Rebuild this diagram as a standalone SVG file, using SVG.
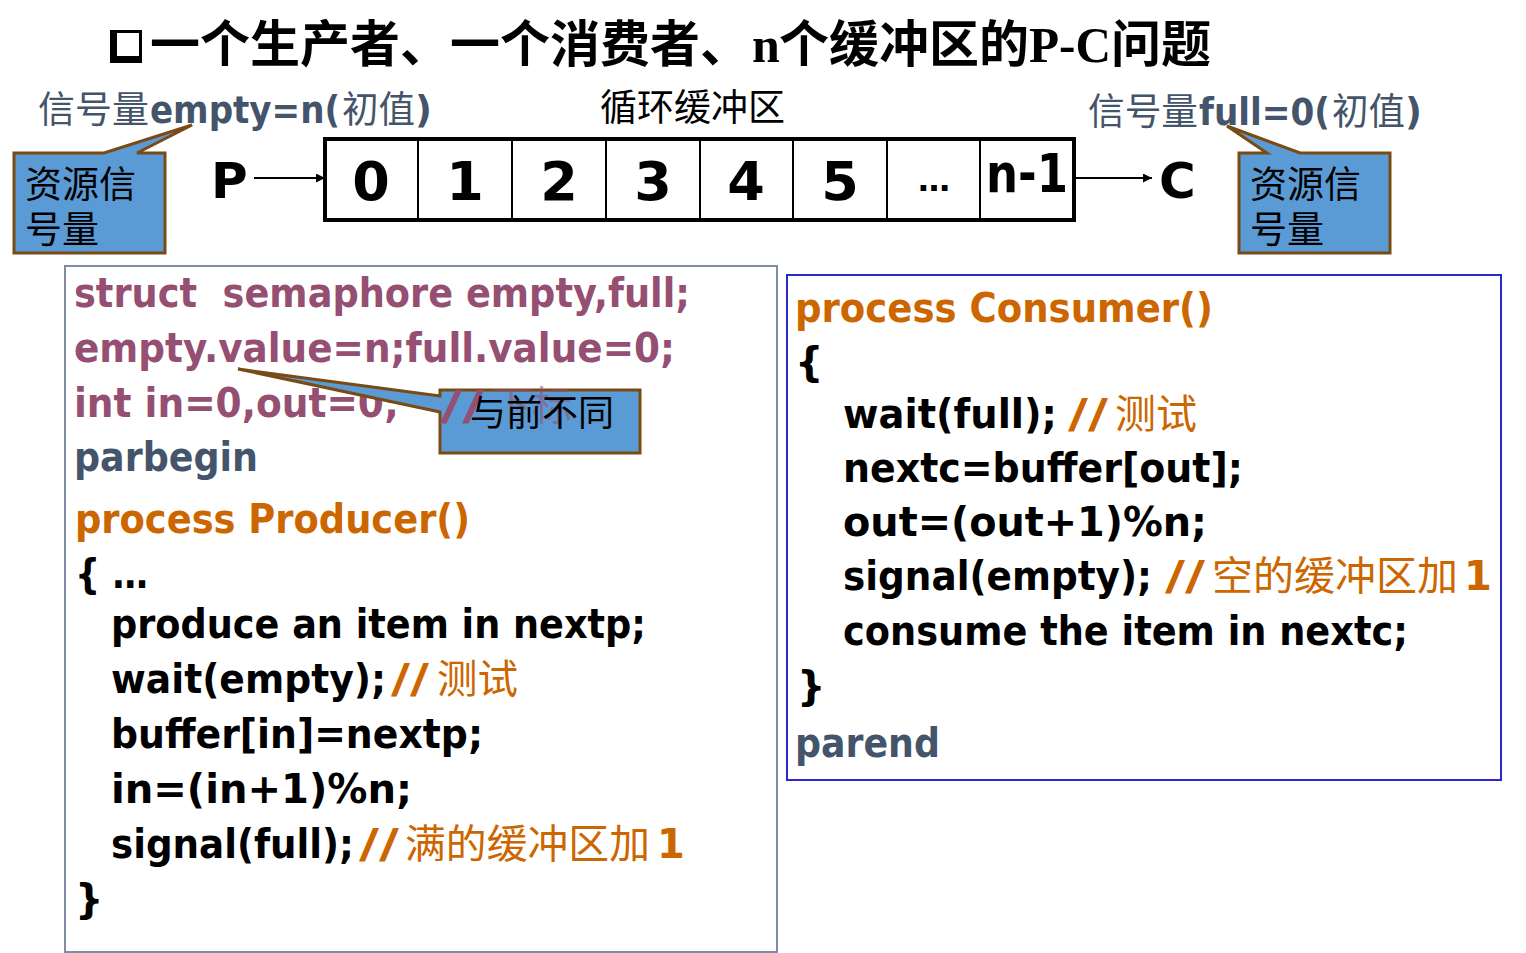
<svg xmlns="http://www.w3.org/2000/svg" width="1526" height="953" viewBox="0 0 1526 953">
  <defs>
    <marker id="arrow" viewBox="0 0 10 10" refX="10" refY="5" markerWidth="9" markerHeight="9" markerUnits="userSpaceOnUse" orient="auto">
      <path d="M0,0 L10,5 L0,10 Z" fill="#000"/>
    </marker>
    <style>
      .title { font-family: "Noto Sans CJK SC", sans-serif; font-weight: 700; font-size: 50px; fill: #000; }
      .titleLatin { font-family: "Liberation Serif", serif; font-weight: 700; font-size: 50px; fill: #000; }
      .code { font-family: "DejaVu Sans", sans-serif; font-weight: 700; }
      .thin { font-family: "Noto Sans CJK SC", sans-serif; font-weight: 400; }
      .maroon { fill: #954F72; }
      .slate { fill: #44546A; }
      .orange { fill: #CC6600; }
      .black { fill: #000; }
      .callout { fill: #5B9BD5; stroke: #7A4A14; stroke-width: 3; }
      .cell { fill: none; stroke: #000; stroke-width: 2; }
      .digit { font-family: "DejaVu Sans", sans-serif; font-weight: 700; text-anchor: middle; fill: #000; }
    </style>
  </defs>

  <!-- heading -->
  <g id="title">
    <rect x="110" y="30" width="32" height="33" fill="#000"/>
    <rect x="117" y="33" width="22" height="23" fill="#fff"/>
    <text class="title" x="150" y="62" textLength="600" lengthAdjust="spacingAndGlyphs">一个生产者、一个消费者、</text>
    <text class="titleLatin" x="752" y="62">n</text>
    <text class="title" x="779" y="62" textLength="250" lengthAdjust="spacingAndGlyphs">个缓冲区的</text>
    <text class="titleLatin" x="1029" y="62" textLength="82" lengthAdjust="spacingAndGlyphs">P-C</text>
    <text class="title" x="1111" y="62" textLength="100" lengthAdjust="spacingAndGlyphs">问题</text>
  </g>

  <!-- semaphore labels -->
  <g id="label-empty" font-size="37">
    <text class="thin slate" x="38" y="123" textLength="111" lengthAdjust="spacingAndGlyphs">信号量</text>
    <text class="code slate" x="150" y="123" textLength="190" lengthAdjust="spacingAndGlyphs">empty=n(</text>
    <text class="thin slate" x="342" y="123" textLength="73" lengthAdjust="spacingAndGlyphs">初值</text>
    <text class="code slate" x="415" y="123">)</text>
  </g>
  <g id="label-buffer" font-size="37">
    <text class="thin black" x="600" y="121" textLength="185" lengthAdjust="spacingAndGlyphs">循环缓冲区</text>
  </g>
  <g id="label-full" font-size="37">
    <text class="thin slate" x="1088" y="125" textLength="110" lengthAdjust="spacingAndGlyphs">信号量</text>
    <text class="code slate" x="1199" y="125" textLength="131" lengthAdjust="spacingAndGlyphs">full=0(</text>
    <text class="thin slate" x="1332" y="125" textLength="73" lengthAdjust="spacingAndGlyphs">初值</text>
    <text class="code slate" x="1405" y="125">)</text>
  </g>

  <!-- callouts: resource semaphore -->
  <g id="callout-empty" font-size="37">
    <path class="callout" d="M14,153 H104 L192,125 L137,153 H165 V253 H14 Z"/>
    <text class="thin black" x="25" y="198">资源信</text>
    <text class="thin black" x="25" y="243">号量</text>
  </g>
  <g id="callout-full" font-size="37">
    <path class="callout" d="M1239,153 H1267 L1227,126 L1300,153 H1390 V253 H1239 Z"/>
    <text class="thin black" x="1250" y="198">资源信</text>
    <text class="thin black" x="1250" y="243">号量</text>
  </g>

  <!-- producer / consumer -->
  <g id="node-P">
    <text class="code black" x="211" y="198" font-size="50">P</text>
  </g>
  <g id="node-C">
    <text class="code black" x="1159" y="198" font-size="50">C</text>
  </g>

  <!-- ring buffer -->
  <g id="buffer" font-size="54">
    <rect x="325" y="139" width="749" height="81" fill="#fff" stroke="#000" stroke-width="4"/>
    <line class="cell" x1="418" y1="139" x2="418" y2="220"/>
    <line class="cell" x1="512" y1="139" x2="512" y2="220"/>
    <line class="cell" x1="606" y1="139" x2="606" y2="220"/>
    <line class="cell" x1="700" y1="139" x2="700" y2="220"/>
    <line class="cell" x1="793" y1="139" x2="793" y2="220"/>
    <line class="cell" x1="887" y1="139" x2="887" y2="220"/>
    <line class="cell" x1="980" y1="139" x2="980" y2="220"/>
    <text class="digit" x="371" y="200">0</text>
    <text class="digit" x="465" y="200">1</text>
    <text class="digit" x="559" y="200">2</text>
    <text class="digit" x="653" y="200">3</text>
    <text class="digit" x="746" y="200">4</text>
    <text class="digit" x="840" y="200">5</text>
    <text class="digit" x="934" y="191" font-size="32">…</text>
    <text class="digit" x="1027" y="192" textLength="82" lengthAdjust="spacingAndGlyphs">n-1</text>
  </g>

  <!-- connectors -->
  <g id="connectors" stroke="#000" stroke-width="2" fill="none">
    <line x1="254" y1="178" x2="325" y2="178" marker-end="url(#arrow)"/>
    <line x1="1076" y1="178" x2="1152" y2="178" marker-end="url(#arrow)"/>
  </g>

  <!-- producer code panel -->
  <g id="producer-code" font-size="40">
    <rect x="65" y="266" width="712" height="686" fill="none" stroke="#7F8CA3" stroke-width="2"/>
    <text class="code maroon" x="74" y="307" xml:space="preserve" textLength="616" lengthAdjust="spacingAndGlyphs">struct  semaphore empty,full;</text>
    <text class="code maroon" x="74" y="362" textLength="601" lengthAdjust="spacingAndGlyphs">empty.value=n;full.value=0;</text>
    <text class="code maroon" x="74" y="417" textLength="325" lengthAdjust="spacingAndGlyphs">int in=0,out=0;</text>
    <text class="code slate" x="74" y="471" textLength="184" lengthAdjust="spacingAndGlyphs">parbegin</text>
    <text class="code orange" x="75" y="533" textLength="395" lengthAdjust="spacingAndGlyphs">process Producer()</text>
    <text class="code black" x="75" y="588" textLength="73" lengthAdjust="spacingAndGlyphs">{ …</text>
    <text class="code black" x="111" y="638" textLength="535" lengthAdjust="spacingAndGlyphs">produce an item in nextp;</text>
    <text class="code black" x="111" y="693" textLength="275" lengthAdjust="spacingAndGlyphs">wait(empty);</text>
    <text class="code orange" x="391" y="693" textLength="38" lengthAdjust="spacingAndGlyphs">//</text>
    <text class="thin orange" x="437" y="693" textLength="81" lengthAdjust="spacingAndGlyphs">测试</text>
    <text class="code black" x="111" y="748" textLength="372" lengthAdjust="spacingAndGlyphs">buffer[in]=nextp;</text>
    <text class="code black" x="111" y="803" textLength="301" lengthAdjust="spacingAndGlyphs">in=(in+1)%n;</text>
    <text class="code black" x="111" y="858" textLength="243" lengthAdjust="spacingAndGlyphs">signal(full);</text>
    <text class="code orange" x="359" y="858" textLength="40" lengthAdjust="spacingAndGlyphs">//</text>
    <text class="thin orange" x="405" y="858" textLength="245" lengthAdjust="spacingAndGlyphs">满的缓冲区加</text>
    <text class="code orange" x="657" y="858">1</text>
    <text class="code black" x="75" y="913">}</text>
  </g>

  <!-- note callout over the index declaration -->
  <g id="callout-note" font-size="40">
    <path class="callout" d="M440,390 H640 V453 H440 V412 L238,369 L440,396 Z"/>
    <text class="code maroon" x="440" y="420" textLength="44" lengthAdjust="spacingAndGlyphs">//</text>
    <text class="thin maroon" x="492" y="420" opacity="0.55">下标</text>
    <text class="thin black" x="470" y="426" font-size="36">与前不同</text>
  </g>

  <!-- consumer code panel -->
  <g id="consumer-code" font-size="40">
    <rect x="787" y="275" width="714" height="505" fill="none" stroke="#2A2ACC" stroke-width="2"/>
    <text class="code orange" x="795" y="322" textLength="418" lengthAdjust="spacingAndGlyphs">process Consumer()</text>
    <text class="code black" x="795" y="376">{</text>
    <text class="code black" x="843" y="428" textLength="214" lengthAdjust="spacingAndGlyphs">wait(full);</text>
    <text class="code orange" x="1068" y="428" textLength="40" lengthAdjust="spacingAndGlyphs">//</text>
    <text class="thin orange" x="1115" y="428" textLength="82" lengthAdjust="spacingAndGlyphs">测试</text>
    <text class="code black" x="843" y="482" textLength="400" lengthAdjust="spacingAndGlyphs">nextc=buffer[out];</text>
    <text class="code black" x="843" y="536" textLength="364" lengthAdjust="spacingAndGlyphs">out=(out+1)%n;</text>
    <text class="code black" x="843" y="590" textLength="309" lengthAdjust="spacingAndGlyphs">signal(empty);</text>
    <text class="code orange" x="1165" y="590" textLength="40" lengthAdjust="spacingAndGlyphs">//</text>
    <text class="thin orange" x="1212" y="590" textLength="246" lengthAdjust="spacingAndGlyphs">空的缓冲区加</text>
    <text class="code orange" x="1464" y="590">1</text>
    <text class="code black" x="843" y="645" textLength="565" lengthAdjust="spacingAndGlyphs">consume the item in nextc;</text>
    <text class="code black" x="797" y="700">}</text>
    <text class="code slate" x="795" y="757" textLength="145" lengthAdjust="spacingAndGlyphs">parend</text>
  </g>
</svg>
